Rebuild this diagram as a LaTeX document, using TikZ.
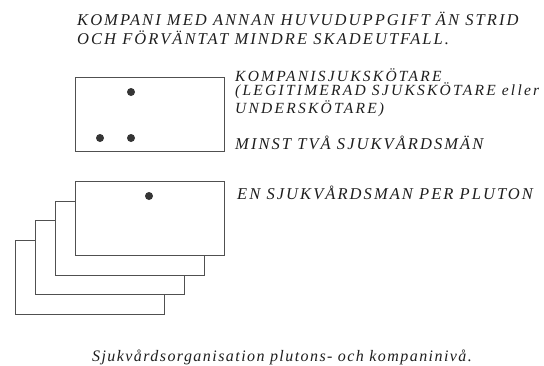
\documentclass[tikz,border=0pt]{standalone}
\usepackage{fontspec}
\setmainfont{Liberation Serif}
\newfontfamily\capsfont[LetterSpace=12.5]{Liberation Serif}
\newfontfamily\lblfont[LetterSpace=14.5]{Liberation Serif}
\newfontfamily\capfont[LetterSpace=9]{Liberation Serif}
\definecolor{ink}{HTML}{1E1E1E}
\definecolor{edge}{HTML}{505050}
\tikzset{
  txt/.style={anchor=base west, inner sep=0pt, text=ink, font=\capsfont\itshape\fontsize{16.5}{16.5}\selectfont},
  lbl/.style={anchor=base west, inner sep=0pt, text=ink, align=left, font=\lblfont\itshape\fontsize{15.5}{14}\selectfont},
  capt/.style={anchor=base, inner sep=0pt, text=ink, font=\capfont\itshape\fontsize{16}{16}\selectfont},
  card/.style={draw=edge, line width=0.9pt, fill=white, anchor=north west, minimum width=149pt, minimum height=74pt, inner sep=0pt},
  dot/.style={circle, fill=ink!90, inner sep=0pt, minimum size=8pt}
}
\begin{document}
\begin{tikzpicture}[x=1pt,y=-1pt]
\useasboundingbox (0,0) rectangle (544,365);
% title
\node[txt] (t1) at (77,25) {KOMPANI MED ANNAN HUVUDUPPGIFT ÄN STRID};
\node[txt] (t2) at (77,44) {OCH FÖRVÄNTAT MINDRE SKADEUTFALL.};
% company box
\node[card] (comp) at (75,77) {};
\node[dot] (d1) at (131,92) {};
\node[dot] (d2) at (100,138) {};
\node[dot] (d3) at (131,138) {};
\node[lbl] (l1) at (235,113) {KOMPANISJUKSKÖTARE\\(LEGITIMERAD SJUKSKÖTARE eller\\UNDERSKÖTARE)};
\node[txt] (l4) at (235,149) {MINST TVÅ SJUKVÅRDSMÄN};
% platoon stack
\node[card] (p4) at (15,240) {};
\node[card] (p3) at (35,220) {};
\node[card] (p2) at (55,201) {};
\node[card] (p1) at (75,181) {};
\node[dot] (d4) at (149,196) {};
\node[txt] (l5) at (237,199) {EN SJUKVÅRDSMAN PER PLUTON};
% caption
\node[capt] (cap) at (282,361) {Sjukvårdsorganisation plutons- och kompaninivå.};
\end{tikzpicture}
\end{document}
